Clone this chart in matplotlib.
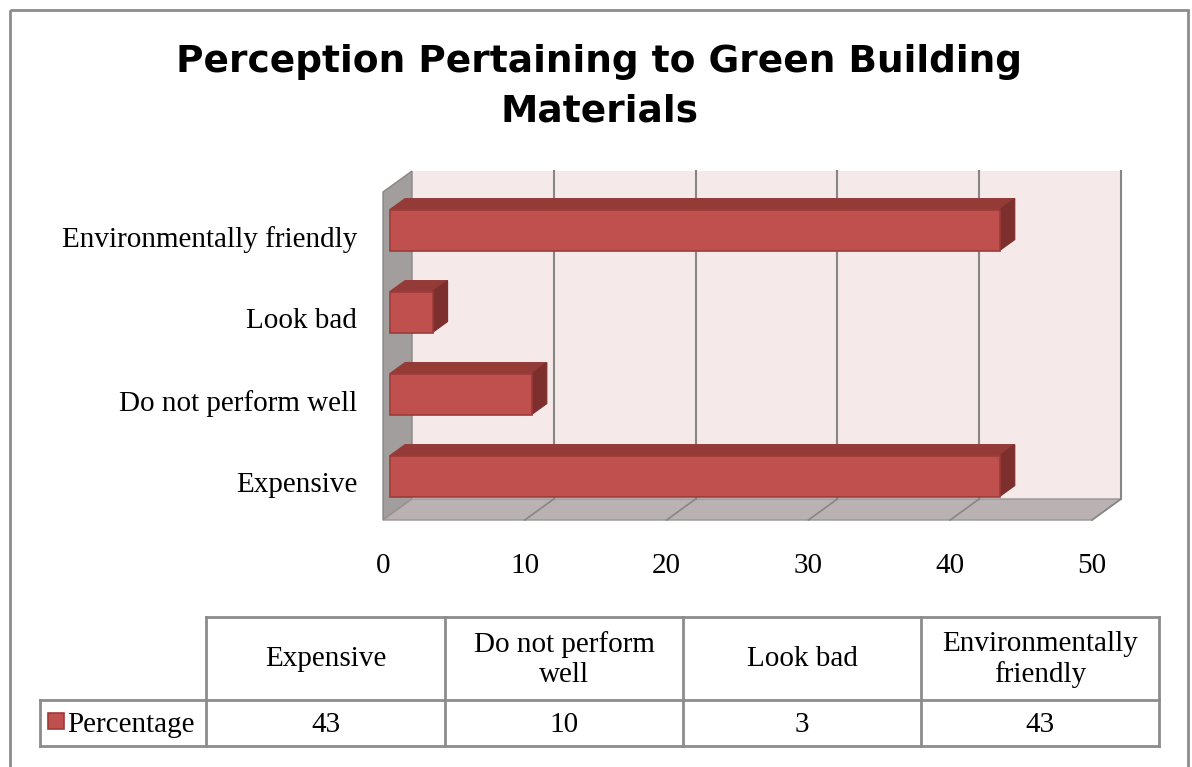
import textwrap
import matplotlib
matplotlib.use("Agg")
import matplotlib.pyplot as plt
from matplotlib.patches import Polygon, Rectangle

# data
categories = ["Expensive", "Do not perform well", "Look bad", "Environmentally friendly"]
values = [43, 10, 3, 43]
series_name = "Percentage"
x_ticks = [0, 10, 20, 30, 40, 50]
title_lines = ["Perception Pertaining to Green Building", "Materials"]

SERIF = "Liberation Serif"
FS = 21

# colours
BAR_FRONT = "#C0504D"
BAR_TOP = "#943A37"
BAR_SIDE = "#7D2F2D"
BAR_EDGE = "#9C3C39"
BACK_WALL = "#F5E9E9"
SIDE_WALL = "#A39E9E"
FLOOR = "#BAB2B2"
GRID = "#868686"
LINE = "#8C8C8C"

W, H = 1192, 767
fig = plt.figure(figsize=(W / 100, H / 100), dpi=100)

# overlay axes in pixel units for frame, title and data table
ov = fig.add_axes([0, 0, 1, 1])
ov.set_xlim(0, W)
ov.set_ylim(H, 0)
ov.axis("off")
ov.add_patch(Rectangle((10, 10), 1178, 800, fill=False, ec=LINE, lw=2, clip_on=False))

ov.text(599, 72, title_lines[0], ha="center", va="baseline", fontsize=27,
        fontweight="bold", family="DejaVu Sans")
ov.text(599, 122, title_lines[1], ha="center", va="baseline", fontsize=27,
        fontweight="bold", family="DejaVu Sans")

# main chart axes: front plane of the 3D box
ax = fig.add_axes([383 / W, 247 / H, 709 / W, 328 / H])
ax.set_xlim(0, 50)
ax.set_ylim(-0.5, 3.5)
ax.patch.set_visible(False)
for s in ax.spines.values():
    s.set_visible(False)

# depth vector (front plane -> back wall) in data units
DX = 29 / 14.18
DY = 21 / 82.0


def P(x, y, d):
    return (x + d * DX, y + d * DY)


x0, x1 = ax.get_xlim()
y0, y1 = ax.get_ylim()

# walls
ax.add_patch(Polygon([P(x0, y0, 1), P(x1, y0, 1), P(x1, y1, 1), P(x0, y1, 1)],
                     closed=True, fc=BACK_WALL, ec="none", clip_on=False, zorder=1))
ax.add_patch(Polygon([P(x0, y0, 0), P(x0, y1, 0), P(x0, y1, 1), P(x0, y0, 1)],
                     closed=True, fc=SIDE_WALL, ec="#8A8585", lw=1, clip_on=False, zorder=2))
ax.add_patch(Polygon([P(x0, y0, 0), P(x1, y0, 0), P(x1, y0, 1), P(x0, y0, 1)],
                     closed=True, fc=FLOOR, ec="#9A9393", lw=1, clip_on=False, zorder=2))

# gridlines on back wall and floor
for t in x_ticks[1:]:
    xs, ys = zip(P(t, y0, 1), P(t, y1, 1))
    ax.plot(xs, ys, color=GRID, lw=1.5, clip_on=False, zorder=3)
    xs, ys = zip(P(t, y0, 0), P(t, y0, 1))
    ax.plot(xs, ys, color=GRID, lw=1.2, clip_on=False, zorder=3)

# 3D bars
d_front, d_back = 0.24, 0.76
half = 0.25
shift = -0.025
for i, v in enumerate(values):
    b, t = i + shift - half, i + shift + half
    top = [P(0, t, d_front), P(v, t, d_front), P(v, t, d_back), P(0, t, d_back)]
    side = [P(v, b, d_front), P(v, b, d_back), P(v, t, d_back), P(v, t, d_front)]
    front = [P(0, b, d_front), P(v, b, d_front), P(v, t, d_front), P(0, t, d_front)]
    ax.add_patch(Polygon(top, closed=True, fc=BAR_TOP, ec=BAR_TOP, lw=0.8, clip_on=False, zorder=5))
    ax.add_patch(Polygon(side, closed=True, fc=BAR_SIDE, ec=BAR_SIDE, lw=0.8, clip_on=False, zorder=5))
    ax.add_patch(Polygon(front, closed=True, fc=BAR_FRONT, ec=BAR_EDGE, lw=1.2, clip_on=False, zorder=6))

ax.set_xticks(x_ticks)
ax.set_xticklabels([str(t) for t in x_ticks], fontsize=FS, family=SERIF)
ax.set_yticks([i + d_front * DY - 0.1 for i in range(len(categories))])
ax.set_yticklabels(categories, fontsize=FS, family=SERIF)
ax.tick_params(axis="x", length=0, pad=23.5)
ax.tick_params(axis="y", length=0, pad=18.5)

# data table
col_edges = [206, 445, 683, 921, 1159]
row_top, row_mid, row_bot = 617, 700, 746
leg_left = 40
ov.plot([col_edges[0], col_edges[-1]], [row_top, row_top], color=LINE, lw=2)
ov.plot([leg_left, col_edges[-1]], [row_mid, row_mid], color=LINE, lw=2)
ov.plot([leg_left, col_edges[-1]], [row_bot, row_bot], color=LINE, lw=2)
ov.plot([leg_left, leg_left], [row_mid, row_bot], color=LINE, lw=2)
for cx in col_edges:
    ov.plot([cx, cx], [row_top, row_bot], color=LINE, lw=2)

for j, (cat, v) in enumerate(zip(categories, values)):
    cx = (col_edges[j] + col_edges[j + 1]) / 2
    ov.text(cx, (row_top + row_mid) / 2 + 1, textwrap.fill(cat, 15), ha="center", va="center",
            fontsize=FS, family=SERIF, linespacing=1.2)
    ov.text(cx, (row_mid + row_bot) / 2 + 2, str(v), ha="center", va="center",
            fontsize=FS, family=SERIF)

ov.add_patch(Rectangle((48, 713), 16, 16, fc=BAR_FRONT, ec=BAR_EDGE, lw=1.2))
ov.text(67, (row_mid + row_bot) / 2 + 2, series_name, ha="left", va="center",
        fontsize=FS, family=SERIF)

fig.savefig("out.png", dpi=100)
